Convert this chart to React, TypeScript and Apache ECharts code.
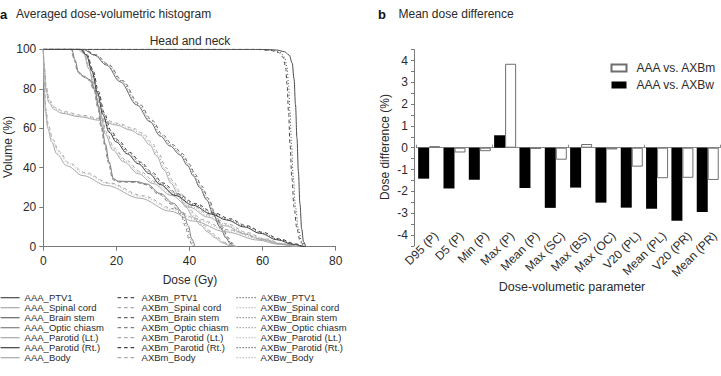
import React, { useEffect, useRef } from "react";
import * as echarts from "echarts";

// ---------- Panel a: DVH data (dose Gy, volume %) ----------
const STRUCTURES = ["PTV1", "Spinal cord", "Brain stem", "Optic chiasm", "Parotid (Lt.)", "Parotid (Rt.)", "Body"];
const STRUCT_COLORS = ["#4a4a4a", "#a8a8a8", "#666666", "#808080", "#a8a8a8", "#3d3d3d", "#a8a8a8"];

const AAA_PTV1 = [[0,100],[60,100],[64,99.6],[66,98.8],[67.3,97],[68.1,93],[68.6,85],[69,72],[69.4,55],[69.8,38],[70.2,22],[70.7,9],[71.2,2.5],[71.8,0]];
const AXBm_PTV1 = [[0,100],[58,100],[62,99.5],[64.3,98.5],[65.6,96],[66.3,91],[66.7,82],[67.1,68],[67.5,52],[68,35],[68.6,20],[69.4,9],[70.3,2.5],[71.3,0]];
const AXBw_PTV1 = [[0,100],[58.5,100],[62.5,99.5],[64.8,98.5],[66,96],[66.7,91],[67.1,82],[67.5,68],[67.9,52],[68.4,35],[69,20],[69.8,9],[70.7,2.5],[71.6,0]];

const AAA_SC = [[0,100],[9.5,100],[11,98],[12.5,90],[14,80],[15.5,68],[17,57],[19,49],[22,43],[26,37],[30,32],[35,26],[40,20],[45,15],[50,10.5],[55,6.5],[60,3.5],[65,1.2],[69.5,0]];
const AXBm_SC = [[0,100],[9.7,100],[11.2,98],[12.7,90.5],[14.2,80.5],[15.7,68.8],[17.3,58],[19.4,50],[22.5,44],[26.6,38],[30.6,33],[35.6,27],[40.6,21],[45.6,16],[50.6,11.4],[55.6,7.2],[60.6,4],[65.6,1.5],[70,0]];
const AXBw_SC = [[0,100],[9.6,100],[11.1,98],[12.6,90.2],[14.1,80.2],[15.6,68.4],[17.1,57.5],[19.2,49.5],[22.3,43.5],[26.3,37.5],[30.3,32.5],[35.3,26.5],[40.3,20.5],[45.3,15.5],[50.3,11],[55.3,6.8],[60.3,3.8],[65.3,1.4],[69.8,0]];

const AAA_BS = [[0,100],[10.9,100],[14,97],[17.3,92],[21,83.6],[25.6,71.8],[29.2,63.3],[32,56],[34.7,51],[37.4,46.5],[39.5,41],[41,36],[42.8,30],[44.7,23.7],[46.5,16.5],[48.3,10],[50,4.5],[51,1.8],[52.2,0]];
const AXBm_BS = [[0,100],[11.2,100],[14.4,97.2],[17.8,92.4],[21.6,84.2],[26.2,72.5],[29.8,64],[32.6,56.8],[35.3,51.8],[38,47.2],[40,41.8],[41.5,36.8],[43.3,30.8],[45.2,24.4],[47,17],[48.8,10.4],[50.5,4.8],[51.5,2],[52.7,0]];
const AXBw_BS = [[0,100],[11.1,100],[14.2,97.1],[17.6,92.2],[21.3,84],[25.9,72.2],[29.5,63.7],[32.3,56.4],[35,51.4],[37.7,46.8],[39.8,41.4],[41.3,36.4],[43,30.4],[45,24],[46.8,16.8],[48.6,10.2],[50.3,4.6],[51.3,1.9],[52.5,0]];

const AAA_OC = [[0,100],[7.8,100],[8.7,94.6],[9.6,88.7],[10.9,86.5],[12.8,84.6],[14.1,79.4],[15.1,71],[16,61],[17,52],[18,43],[19.2,34.5],[20.5,33.2],[25.5,33],[28.3,31.8],[32,27],[35.6,22],[38.3,17],[39.7,10.5],[40.6,4],[41.5,0]];
const AXBm_OC = [[0,100],[7.6,100],[8.5,94.3],[9.4,88.4],[10.7,86.2],[12.6,84.3],[13.9,79],[14.9,70.5],[15.8,60.5],[16.8,51.5],[17.8,42.5],[19,34],[20.3,32.8],[25.3,32.6],[28.1,31.4],[31.6,26.6],[35,21.6],[37.6,16.6],[38.9,10.3],[39.8,4],[40.7,0]];
const AXBw_OC = [[0,100],[7.7,100],[8.6,94.4],[9.5,88.5],[10.8,86.3],[12.7,84.4],[14,79.2],[15,70.8],[15.9,60.8],[16.9,51.8],[17.9,42.8],[19.1,34.2],[20.4,33],[25.4,32.8],[28.2,31.6],[31.8,26.8],[35.3,21.8],[37.9,16.8],[39.3,10.4],[40.2,4],[41.1,0]];

const AAA_PL = [[0,100],[0.3,90],[0.7,80],[1.5,73],[3,69.5],[5,67.6],[10,65.8],[15.5,64],[20,61.6],[24,59],[26.5,56.6],[29.2,51.5],[31,46],[33,39],[35,32],[37,26],[39,20],[41,15],[43,11],[45,7.5],[47,4.5],[49,2],[51,0.6],[52.5,0]];
const AXBm_PL = [[0,100],[0.3,91],[0.8,81],[1.7,74],[3.3,70.5],[5.5,68.5],[10.5,66.6],[16,64.8],[20.5,62.5],[24.5,60],[27.2,57.5],[29.8,52.5],[31.6,47],[33.6,40],[35.6,33],[37.6,27],[39.6,21],[41.6,16],[43.6,11.6],[45.6,8],[47.6,4.8],[49.6,2.2],[51.6,0.7],[53,0]];
const AXBw_PL = [[0,100],[0.3,90.5],[0.8,80.5],[1.6,73.5],[3.2,70],[5.3,68],[10.3,66.2],[15.8,64.4],[20.3,62],[24.3,59.5],[26.9,57],[29.5,52],[31.3,46.5],[33.3,39.5],[35.3,32.5],[37.3,26.5],[39.3,20.5],[41.3,15.5],[43.3,11.3],[45.3,7.8],[47.3,4.6],[49.3,2.1],[51.3,0.6],[52.8,0]];

const AAA_PR = [[0,100],[10.2,100],[11.8,97],[13.3,89],[14.8,78],[16.3,67],[18,58],[20,53],[23,47],[26,42],[29,37],[32,31.5],[36,26],[41,21],[46,16.5],[50.2,13.5],[55,10],[59.3,6.8],[64,3.5],[68.3,1.2],[71,0]];
const AXBm_PR = [[0,100],[10.4,100],[12,97.2],[13.6,89.5],[15.1,78.6],[16.7,67.8],[18.5,58.8],[20.6,53.8],[23.6,47.8],[26.7,42.8],[29.7,37.8],[32.7,32.3],[36.7,26.8],[41.7,21.8],[46.7,17.2],[50.9,14.2],[55.7,10.6],[60,7.3],[64.7,3.9],[69,1.4],[71.5,0]];
const AXBw_PR = [[0,100],[10.3,100],[11.9,97.1],[13.4,89.2],[15,78.3],[16.5,67.4],[18.2,58.4],[20.3,53.4],[23.3,47.4],[26.4,42.4],[29.4,37.4],[32.4,31.9],[36.4,26.4],[41.4,21.4],[46.4,16.8],[50.6,13.8],[55.4,10.3],[59.7,7],[64.4,3.7],[68.7,1.3],[71.3,0]];

const AAA_BODY = [[0,100],[0.2,82],[0.6,68],[1.2,60],[2.3,53],[3.7,47],[6.4,41],[10.9,36],[17.3,31],[26.5,24.5],[34.7,18],[41,13],[50,7.5],[59,3.3],[64,1.3],[68.5,0]];
const AXBm_BODY = [[0,100],[0.3,83],[0.7,70],[1.4,61.5],[2.6,54.5],[4.2,48.5],[7,42.5],[11.5,37.5],[18,32.3],[27.3,25.8],[35.5,19.3],[42,14.2],[51,8.5],[60,3.9],[65,1.5],[69.5,0]];
const AXBw_BODY = [[0,100],[0.3,82.5],[0.7,69],[1.3,61],[2.5,54],[4,48],[6.8,42],[11.3,37],[17.8,32],[27,25.3],[35.2,18.8],[41.6,13.8],[50.6,8.1],[59.6,3.7],[64.6,1.4],[69,0]];

const AAA_CURVES = [AAA_PTV1, AAA_SC, AAA_BS, AAA_OC, AAA_PL, AAA_PR, AAA_BODY];
const AXBm_CURVES = [AXBm_PTV1, AXBm_SC, AXBm_BS, AXBm_OC, AXBm_PL, AXBm_PR, AXBm_BODY];
const AXBw_CURVES = [AXBw_PTV1, AXBw_SC, AXBw_BS, AXBw_OC, AXBw_PL, AXBw_PR, AXBw_BODY];
const ALGOS = ["AAA", "AXBm", "AXBw"];

// ---------- Panel b: mean dose difference ----------
const PARAMS = ["D95 (P)", "D5 (P)", "Min (P)", "Max (P)", "Mean (P)", "Max (SC)", "Max (BS)", "Max (OC)", "V20 (PL)", "Mean (PL)", "V20 (PR)", "Mean (PR)"];
const DIFF_AXBm = [0.07, -0.22, -0.16, 3.85, -0.05, -0.55, 0.17, -0.08, -0.87, -1.4, -1.38, -1.48];
const DIFF_AXBw = [-1.42, -1.87, -1.47, 0.57, -1.85, -2.76, -1.83, -2.52, -2.75, -2.8, -3.35, -2.95];

const FONT = "'Liberation Sans', Arial, Helvetica, sans-serif";
const TXT = "#2b2b2b";
const AXIS = "#7a7a7a";

export default function App() {
  const ref = useRef<HTMLDivElement>(null);
  useEffect(() => {
    if (!ref.current) return;
    const chart = echarts.init(ref.current, null, { renderer: "svg" });

    const lineTypes: any[] = ["solid", [3.5, 3], [1, 2]];
    const lineSeries: any[] = [];
    const legendNames: string[][] = [[], [], []];
    [AAA_CURVES, AXBm_CURVES, AXBw_CURVES].forEach((curves, a) => {
      curves.forEach((pts, s) => {
        const name = `${ALGOS[a]}_${STRUCTURES[s]}`;
        legendNames[a].push(name);
        lineSeries.push({
          name,
          type: "line",
          xAxisIndex: 0,
          yAxisIndex: 0,
          data: pts,
          showSymbol: false,
          symbol: "none",
          smooth: 0.35,
          smoothMonotone: "x",
          lineStyle: { color: STRUCT_COLORS[s], width: 1, type: lineTypes[a] },
          itemStyle: { color: STRUCT_COLORS[s] },
          silent: true,
          z: 3 - a,
        });
      });
    });

    const legendCols = [0, 117, 236].map((left, a) => ({
      show: true,
      orient: "vertical",
      left,
      top: 292.7,
      padding: 0,
      itemWidth: 19,
      itemHeight: 10,
      itemGap: 0,
      selectedMode: false,
      data: legendNames[a],
      itemStyle: { opacity: 0, borderWidth: 0 },
      lineStyle: { width: 1.2 },
      textStyle: { fontSize: 9.5, color: TXT, fontFamily: FONT, lineHeight: 10 },
    }));

    const option: any = {
      animation: false,
      textStyle: { fontFamily: FONT },
      grid: [
        { left: 43.3, top: 49.3, width: 292.4, height: 197.4 },
        { left: 416.5, top: 49.6, width: 308, height: 196.2 },
      ],
      xAxis: [
        {
          gridIndex: 0,
          type: "value",
          min: 0,
          max: 80,
          interval: 20,
          axisLine: { onZero: false, lineStyle: { color: AXIS, width: 1 } },
          axisTick: { show: true, length: 4, lineStyle: { color: AXIS } },
          axisLabel: { fontSize: 12, color: TXT, margin: 8 },
          splitLine: { show: false },
        },
        {
          gridIndex: 1,
          type: "category",
          data: PARAMS,
          position: "bottom",
          axisLine: { show: false, onZero: false },
          axisTick: { show: false },
          axisLabel: { interval: 0, rotate: 45, fontSize: 12, color: TXT, margin: -5, padding: [0, -10, 0, 0] },
        },
        {
          gridIndex: 1,
          type: "category",
          data: PARAMS,
          position: "bottom",
          axisLine: { show: true, onZero: true, lineStyle: { color: "#8a8a8a", width: 1 } },
          axisTick: { show: true, inside: true, length: 3, lineStyle: { color: "#8a8a8a" } },
          axisLabel: { show: false },
        },
      ],
      yAxis: [
        {
          gridIndex: 0,
          type: "value",
          min: 0,
          max: 100,
          interval: 20,
          axisLine: { show: true, lineStyle: { color: AXIS, width: 1 } },
          axisTick: { show: true, length: 4, lineStyle: { color: AXIS } },
          axisLabel: { fontSize: 12, color: TXT, margin: 7 },
          splitLine: { show: false },
        },
        {
          gridIndex: 1,
          type: "value",
          min: -4.5,
          max: 4.5,
          interval: 0.5,
          offset: 2.5,
          axisLine: { show: true, lineStyle: { color: AXIS, width: 1 } },
          axisTick: { show: true, length: 3, lineStyle: { color: AXIS } },
          axisLabel: {
            fontSize: 12,
            color: TXT,
            margin: 6,
            formatter: (v: number) => (Number.isInteger(v) && Math.abs(v) <= 4 ? String(v) : ""),
          },
          splitLine: { show: false },
        },
      ],
      legend: [
        ...legendCols,
        {
          show: true,
          orient: "vertical",
          left: 610.5,
          top: 62,
          padding: 0,
          itemWidth: 15,
          itemHeight: 7,
          itemGap: 5,
          icon: "rect",
          selectedMode: false,
          data: ["AAA vs. AXBm", "AAA vs. AXBw"],
          textStyle: { fontSize: 12, color: TXT, fontFamily: FONT, padding: [0, 0, 0, 5] },
        },
      ],
      series: [
        ...lineSeries,
        {
          name: "AAA vs. AXBw",
          type: "bar",
          xAxisIndex: 1,
          yAxisIndex: 1,
          data: DIFF_AXBw,
          barWidth: 11,
          barGap: "0%",
          itemStyle: { color: "#000000" },
          silent: true,
        },
        {
          name: "AAA vs. AXBm",
          type: "bar",
          xAxisIndex: 1,
          yAxisIndex: 1,
          data: DIFF_AXBm,
          barWidth: 11,
          barGap: "0%",
          itemStyle: { color: "#ffffff", borderColor: "#6e6e6e", borderWidth: 1 },
          silent: true,
        },
      ],
      graphic: [
        { type: "text", x: 0, y: 14, style: { text: "a", fontSize: 13, fontWeight: "bold", fill: "#111", fontFamily: FONT, verticalAlign: "middle" } },
        { type: "text", x: 16, y: 14, style: { text: "Averaged dose-volumetric histogram", fontSize: 12, fill: TXT, fontFamily: FONT, verticalAlign: "middle" } },
        { type: "text", x: 378, y: 14, style: { text: "b", fontSize: 13, fontWeight: "bold", fill: "#111", fontFamily: FONT, verticalAlign: "middle" } },
        { type: "text", x: 398.5, y: 14, style: { text: "Mean dose difference", fontSize: 12, fill: TXT, fontFamily: FONT, verticalAlign: "middle" } },
        { type: "text", x: 190, y: 40.5, style: { text: "Head and neck", fontSize: 12, fill: TXT, fontFamily: FONT, align: "center", verticalAlign: "middle" } },
        { type: "text", x: 190, y: 280, style: { text: "Dose (Gy)", fontSize: 12, fill: TXT, fontFamily: FONT, align: "center", verticalAlign: "middle" } },
        { type: "text", x: 7.5, y: 147, rotation: Math.PI / 2, style: { text: "Volume (%)", fontSize: 12, fill: TXT, fontFamily: FONT, align: "center", verticalAlign: "middle" } },
        { type: "text", x: 385, y: 147, rotation: Math.PI / 2, style: { text: "Dose difference (%)", fontSize: 12, fill: TXT, fontFamily: FONT, align: "center", verticalAlign: "middle" } },
        { type: "text", x: 572, y: 287, style: { text: "Dose-volumetic parameter", fontSize: 12.5, fill: TXT, fontFamily: FONT, align: "center", verticalAlign: "middle" } },
      ],
    };
    chart.setOption(option);
    return () => chart.dispose();
  }, []);
  return <div ref={ref} style={{ position: "absolute", left: 0, top: 0, width: 721, height: 376, background: "#fff" }} />;
}
